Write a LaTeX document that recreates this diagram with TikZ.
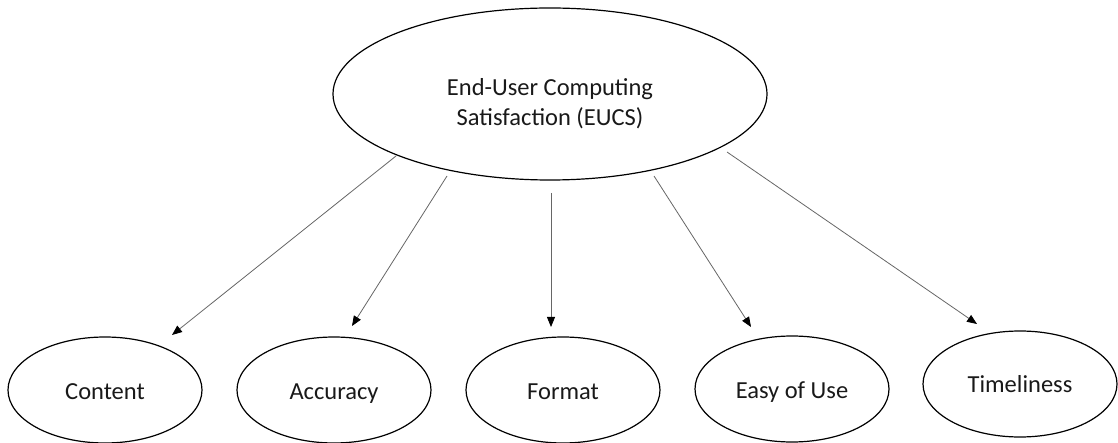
\documentclass[tikz,border=0pt]{standalone}
\usepackage{fontspec}
\setmainfont{Carlito}
\usetikzlibrary{shapes.geometric,arrows.meta}
\begin{document}
\begin{tikzpicture}[x=1pt,y=-1pt,
  bigell/.style={ellipse,draw=black,line width=1.2pt,minimum width=434pt,minimum height=172pt,inner sep=0pt},
  smallell/.style={ellipse,draw=black,line width=1.2pt,minimum width=194pt,minimum height=106pt,inner sep=0pt},
  lbl/.style={font=\fontsize{24.5}{30}\selectfont,inner sep=0pt,text=black!90},
  arr/.style={draw=black!60,line width=0.8pt,-{Triangle[length=10pt,width=8pt,color=black]}}
]
\useasboundingbox (0,0) rectangle (1118,443);
% top ellipse
\node[bigell] (eucs) at (550,94) {};
\node[lbl,align=center,anchor=south,text depth=0pt] (eucstxt) at (550,126) {End-User Computing\\Satisfaction (EUCS)};
% bottom ellipses
\node[smallell] (content) at (105,390) {};
\node[smallell] (accuracy) at (334,390) {};
\node[smallell] (format) at (563,390) {};
\node[smallell] (easy) at (792,389) {};
\node[smallell] (time) at (1020,384) {};
\node[lbl,anchor=base] (contenttxt) at (105,399) {Content};
\node[lbl,anchor=base] (accuracytxt) at (334,399) {Accuracy};
\node[lbl,anchor=base] (formattxt) at (563,399) {Format};
\node[lbl,anchor=base] (easytxt) at (792,398) {Easy of Use};
\node[lbl,anchor=base] (timetxt) at (1020,392) {Timeliness};
% arrow ends
\coordinate (s1) at (396,156); \coordinate (e1) at (172,335);
\coordinate (s2) at (447,176); \coordinate (e2) at (352,326);
\coordinate (s3) at (551,193); \coordinate (e3) at (551,327);
\coordinate (s4) at (654,176); \coordinate (e4) at (751,327);
\coordinate (s5) at (727,152); \coordinate (e5) at (977,324);
\draw[arr] (s1) -- (e1);
\draw[arr] (s2) -- (e2);
\draw[arr] (s3) -- (e3);
\draw[arr] (s4) -- (e4);
\draw[arr] (s5) -- (e5);
\end{tikzpicture}
\end{document}
